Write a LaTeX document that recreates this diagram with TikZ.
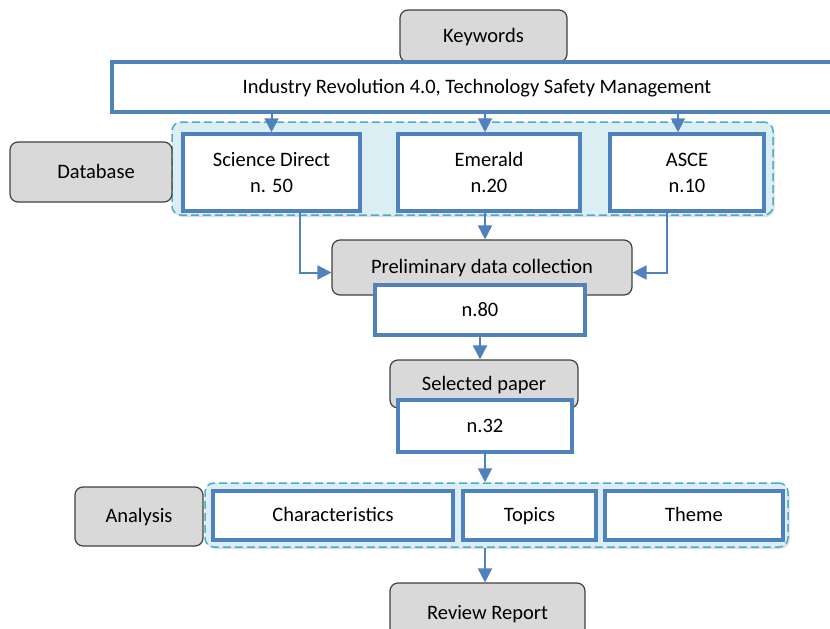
\documentclass[tikz,border=0pt]{standalone}
\usepackage{fontspec}
\setmainfont{Carlito}
\usetikzlibrary{arrows.meta, positioning, shadows}

\definecolor{boxblue}{HTML}{4F81BD}
\definecolor{greyfill}{HTML}{D9D9D9}
\definecolor{dashblue}{HTML}{4BACC6}
\definecolor{groupfill}{HTML}{DBEEF4}

\begin{document}
\begin{tikzpicture}[
    x=1pt, y=-1pt,
    every node/.style={font=\fontsize{20.5}{25}\selectfont, inner sep=0pt},
    onerow/.style={text height=14pt, text depth=2pt},
    label/.style={rectangle, draw=black!75, line width=1.2pt, fill=greyfill, rounded corners=8pt, onerow},
    block/.style={rectangle, draw=boxblue, line width=3.5pt, fill=white},
    group/.style={rectangle, draw=dashblue, line width=1.5pt, dash pattern=on 8pt off 4pt, fill=groupfill, rounded corners=9pt, drop shadow={opacity=0.25, shadow xshift=1.5pt, shadow yshift=-2pt}},
    line/.style={draw=boxblue, line width=2pt, -{Triangle[length=14pt, width=14pt]}}
]
\useasboundingbox (0,0) rectangle (830,629);

% search keywords
\node [label, minimum width=167pt, minimum height=52pt] (keywords) at (483.5,36) {Keywords};
\node [block, onerow, minimum width=730pt, minimum height=50pt] (industry) at (477,87) {Industry Revolution 4.0, Technology Safety Management};

% databases
\node [group, minimum width=601pt, minimum height=93pt] (dbgroup) at (472.5,168.5) {};
\node [label, minimum width=162pt, minimum height=60pt] (database) at (91,172) {\hspace*{10pt}Database};
\node [block, minimum width=177pt, minimum height=77pt, align=center] (sci) at (271.5,172.5) {Science Direct\\[1pt]n. 50};
\node [block, minimum width=182pt, minimum height=77pt, align=center] (emerald) at (489,172.5) {Emerald\\[1pt]n.20};
\node [block, minimum width=154pt, minimum height=77pt, align=center] (asce) at (687,172.5) {ASCE\\[1pt]n.10};

% collection
\node [label, minimum width=300pt, minimum height=55pt] (prelim) at (482,267.5) {Preliminary data collection};
\node [block, onerow, minimum width=210pt, minimum height=50pt] (n80) at (480,310) {n.80};
\node [label, minimum width=188pt, minimum height=48pt] (selected) at (484,384) {Selected paper};
\node [block, onerow, minimum width=174pt, minimum height=52pt] (n32) at (485,426) {n.32};

% analysis
\node [group, minimum width=583pt, minimum height=64pt] (angroup) at (496.5,515) {};
\node [label, minimum width=128pt, minimum height=59pt] (analysis) at (139,516.5) {Analysis};
\node [block, onerow, minimum width=240pt, minimum height=49pt] (charac) at (333,515.5) {Characteristics};
\node [block, onerow, minimum width=133pt, minimum height=49pt] (topics) at (529.5,515.5) {Topics};
\node [block, onerow, minimum width=178pt, minimum height=49pt] (theme) at (694,515.5) {Theme};

\node [label, minimum width=195pt, minimum height=60pt] (review) at (487.5,613) {Review Report};

\path [line] (sci.north |- industry.south) -- (sci.north);
\path [line] ([xshift=-4pt]emerald.north |- industry.south) -- ([xshift=-4pt]emerald.north);
\path [line] ([xshift=-9pt]asce.north |- industry.south) -- ([xshift=-9pt]asce.north);
\path [line] ([xshift=-4pt]emerald.south) -- ([xshift=-4pt]emerald.south |- prelim.north);
\path [line] ([xshift=28.5pt]sci.south) |- ([yshift=-5pt]prelim.west);
\path [line] ([xshift=-20pt]asce.south) |- ([yshift=-5pt]prelim.east);
\path [line] (n80.south) -- (n80.south |- selected.north);
\path [line] (n32.south) -- (n32.south |- angroup.north);
\path [line] (n32.south |- angroup.south) -- (review.north -| n32.south);
\end{tikzpicture}
\end{document}
